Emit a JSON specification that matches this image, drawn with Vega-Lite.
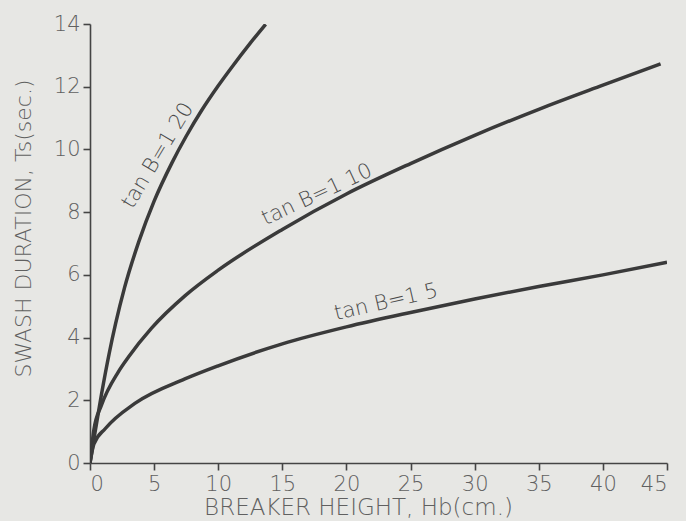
{
  "$schema": "https://vega.github.io/schema/vega-lite/v6.json",
  "width": 577,
  "height": 439,
  "autosize": {"type": "none"},
  "padding": {"left": 90, "top": 24, "right": 19, "bottom": 58},
  "background": "#e7e7e4",
  "config": {
    "view": {"stroke": null},
    "font": "DejaVu Sans",
    "axis": {
      "grid": false,
      "domainColor": "#444444",
      "domainWidth": 1.6,
      "tickColor": "#444444",
      "tickWidth": 1.6,
      "tickSize": 7,
      "labelColor": "#606060",
      "titleColor": "#606060",
      "labelFont": "DejaVu Sans",
      "titleFont": "DejaVu Sans",
      "labelFontSize": 21,
      "titleFontSize": 22,
      "labelFontWeight": 200,
      "titleFontWeight": 200
    }
  },
  "datasets": {
    "curves": [
      {"slope": "1:20", "H": 0, "T": 0},
      {"slope": "1:20", "H": 0.4, "T": 1.0},
      {"slope": "1:20", "H": 0.9, "T": 2.2},
      {"slope": "1:20", "H": 1.5, "T": 3.5},
      {"slope": "1:20", "H": 2.0, "T": 4.45},
      {"slope": "1:20", "H": 2.7, "T": 5.6},
      {"slope": "1:20", "H": 3.8, "T": 7.05},
      {"slope": "1:20", "H": 5.0, "T": 8.35},
      {"slope": "1:20", "H": 6.4, "T": 9.58},
      {"slope": "1:20", "H": 7.5, "T": 10.42},
      {"slope": "1:20", "H": 8.7, "T": 11.24},
      {"slope": "1:20", "H": 10.0, "T": 12.03},
      {"slope": "1:20", "H": 11.0, "T": 12.59},
      {"slope": "1:20", "H": 12.5, "T": 13.39},
      {"slope": "1:20", "H": 13.7, "T": 13.99},
      {"slope": "1:10", "H": 0, "T": 0},
      {"slope": "1:10", "H": 0.3, "T": 1.05},
      {"slope": "1:10", "H": 0.9, "T": 1.85},
      {"slope": "1:10", "H": 2.2, "T": 2.9},
      {"slope": "1:10", "H": 3.0, "T": 3.38},
      {"slope": "1:10", "H": 4.8, "T": 4.3},
      {"slope": "1:10", "H": 7.4, "T": 5.33},
      {"slope": "1:10", "H": 10, "T": 6.15},
      {"slope": "1:10", "H": 15, "T": 7.45},
      {"slope": "1:10", "H": 20, "T": 8.58},
      {"slope": "1:10", "H": 25, "T": 9.55},
      {"slope": "1:10", "H": 30, "T": 10.45},
      {"slope": "1:10", "H": 35, "T": 11.28},
      {"slope": "1:10", "H": 40, "T": 12.05},
      {"slope": "1:10", "H": 44.5, "T": 12.73},
      {"slope": "1:5", "H": 0, "T": 0},
      {"slope": "1:5", "H": 0.3, "T": 0.6},
      {"slope": "1:5", "H": 1.2, "T": 1.1},
      {"slope": "1:5", "H": 3.5, "T": 1.9},
      {"slope": "1:5", "H": 7.4, "T": 2.68},
      {"slope": "1:5", "H": 10, "T": 3.1},
      {"slope": "1:5", "H": 15, "T": 3.8},
      {"slope": "1:5", "H": 20, "T": 4.34},
      {"slope": "1:5", "H": 25, "T": 4.8},
      {"slope": "1:5", "H": 30, "T": 5.23},
      {"slope": "1:5", "H": 35, "T": 5.63},
      {"slope": "1:5", "H": 40, "T": 6.0},
      {"slope": "1:5", "H": 45, "T": 6.4}
    ]
  },
  "layer": [
    {
      "data": {"name": "curves"},
      "mark": {"type": "line", "interpolate": "monotone", "color": "#3a3a3a", "strokeWidth": 3.5, "clip": true},
      "encoding": {
        "x": {
          "field": "H", "type": "quantitative",
          "scale": {"domain": [0, 45], "nice": false},
          "axis": {
            "values": [0, 5, 10, 15, 20, 25, 30, 35, 40, 45],
            "title": "BREAKER HEIGHT, Hb(cm.)",
            "titleFontSize": 23,
            "labelPadding": 3,
            "titleX": 268,
            "titleY": 51,
            "titleBaseline": "alphabetic",
            "titleAnchor": "middle"
          }
        },
        "y": {
          "field": "T", "type": "quantitative",
          "scale": {"domain": [0, 14], "nice": false},
          "axis": {
            "values": [0, 2, 4, 6, 8, 10, 12, 14],
            "title": "SWASH DURATION, Ts(sec.)",
            "labelPadding": 3,
            "titleX": -67,
            "titleY": 204,
            "titleAngle": 270,
            "titleAlign": "center",
            "titleBaseline": "middle"
          }
        },
        "detail": {"field": "slope", "type": "nominal"}
      }
    },
    {
      "data": {"values": [{"label": "tan B=1 20", "H": 5.3, "T": 9.8}]},
      "mark": {"type": "text", "angle": -59, "fontSize": 21, "font": "DejaVu Sans", "fontWeight": 200, "color": "#4a4a4a", "align": "center", "baseline": "middle"},
      "encoding": {
        "x": {"field": "H", "type": "quantitative"},
        "y": {"field": "T", "type": "quantitative"},
        "text": {"field": "label"}
      }
    },
    {
      "data": {"values": [{"label": "tan B=1 10", "H": 17.7, "T": 8.55}]},
      "mark": {"type": "text", "angle": -25, "fontSize": 21, "font": "DejaVu Sans", "fontWeight": 200, "color": "#4a4a4a", "align": "center", "baseline": "middle"},
      "encoding": {
        "x": {"field": "H", "type": "quantitative"},
        "y": {"field": "T", "type": "quantitative"},
        "text": {"field": "label"}
      }
    },
    {
      "data": {"values": [{"label": "tan B=1 5", "H": 23.1, "T": 5.12}]},
      "mark": {"type": "text", "angle": -13, "fontSize": 21, "font": "DejaVu Sans", "fontWeight": 200, "color": "#4a4a4a", "align": "center", "baseline": "middle"},
      "encoding": {
        "x": {"field": "H", "type": "quantitative"},
        "y": {"field": "T", "type": "quantitative"},
        "text": {"field": "label"}
      }
    }
  ]
}
